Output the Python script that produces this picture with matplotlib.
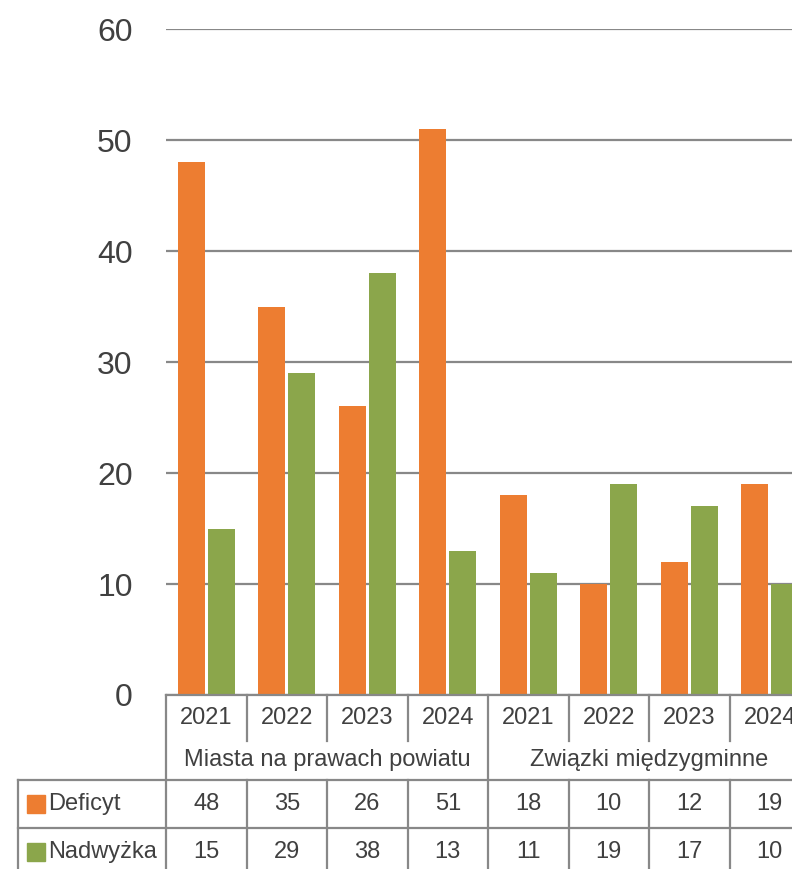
import matplotlib
matplotlib.use("Agg")
import matplotlib.pyplot as plt
import numpy as np

plt.rcParams['font.family'] = ['Liberation Sans Narrow', 'Liberation Sans', 'DejaVu Sans']

# data
groups = ["Miasta na prawach powiatu", "Związki międzygminne"]
years = ["2021", "2022", "2023", "2024"]
deficyt = [48, 35, 26, 51, 18, 10, 12, 19]
nadwyzka = [15, 29, 38, 13, 11, 19, 17, 10]
series_names = ["Deficyt", "Nadwyżka"]
colors = ["#ED7D31", "#8BA64B"]
text_color = "#404040"
line_color = "#888888"

W, H = 792, 869
fig = plt.figure(figsize=(W / 100, H / 100), dpi=100)

# axes extends beyond the right edge (chart is cropped)
left_px, right_px = 166, 810
bottom_px, top_px = 695, 29
ax = fig.add_axes([left_px / W, 1 - bottom_px / H, (right_px - left_px) / W, (bottom_px - top_px) / H])

n = len(deficyt)
x = np.arange(n)
bw = 0.335
off = 0.186
ax.bar(x - off, deficyt, bw, color=colors[0], zorder=3)
ax.bar(x + off, nadwyzka, bw, color=colors[1], zorder=3)

ax.set_xlim(-0.5, n - 0.5)
ax.set_ylim(0, 60)
ax.set_yticks(range(0, 61, 10))
ax.yaxis.grid(True, color=line_color, linewidth=1.6, zorder=0)
ax.set_xticks([])
for s in ax.spines.values():
    s.set_visible(False)
ax.tick_params(axis='y', length=0, pad=24, labelsize=23, labelcolor=text_color)

# data table below the axes (y in pixels from figure top)
def fy(py):
    return (bottom_px - py) / (bottom_px - top_px) * 60

lw = 1.6
kw = dict(color=line_color, linewidth=lw, clip_on=False, zorder=5)

y_top, y_year, y_cat, y_row1, y_bot = 695, 741, 780, 828, 880
# horizontal lines
ax.plot([-0.5, n - 0.5], [fy(y_top)] * 2, **kw)
ax.plot([-0.5, n - 0.5], [fy(y_row1)] * 2, **kw)
ax.plot([-0.5, n - 0.5], [fy(y_cat)] * 2, **kw)
fig.add_artist(plt.Line2D([18 / W, left_px / W], [1 - y_cat / H] * 2, color=line_color, linewidth=lw))
fig.add_artist(plt.Line2D([18 / W, left_px / W], [1 - y_row1 / H] * 2, color=line_color, linewidth=lw))
fig.add_artist(plt.Line2D([18 / W, 18 / W], [1 - y_cat / H, 0], color=line_color, linewidth=lw))

# vertical lines
for b in np.arange(-0.5, n + 0.5, 1.0):
    if b == -0.5 or b == 3.5 or b == n - 0.5:
        ax.plot([b, b], [fy(y_top), fy(y_bot)], **kw)
    else:
        ax.plot([b, b], [fy(y_top), fy(y_year)], **kw)
        ax.plot([b, b], [fy(y_cat), fy(y_bot)], **kw)

fs = 17
for i in range(n):
    ax.text(i, fy(718), years[i % 4], ha='center', va='center', fontsize=fs, color=text_color, clip_on=False)
    ax.text(i, fy(804), str(deficyt[i]), ha='center', va='center', fontsize=fs, color=text_color, clip_on=False)
    ax.text(i, fy(852), str(nadwyzka[i]), ha='center', va='center', fontsize=fs, color=text_color, clip_on=False)
for g, name in enumerate(groups):
    ax.text(g * 4 + 1.5, fy(760), name, ha='center', va='center', fontsize=fs, color=text_color, clip_on=False)

# legend keys in the table
for name, c, py in zip(series_names, colors, [804, 852]):
    fig.add_artist(plt.Rectangle((27 / W, 1 - (py + 9) / H), 18 / W, 18 / H, color=c, transform=fig.transFigure))
    fig.text(48 / W, 1 - py / H, name, ha='left', va='center', fontsize=fs, color=text_color)

fig.savefig("out.png", dpi=100)
